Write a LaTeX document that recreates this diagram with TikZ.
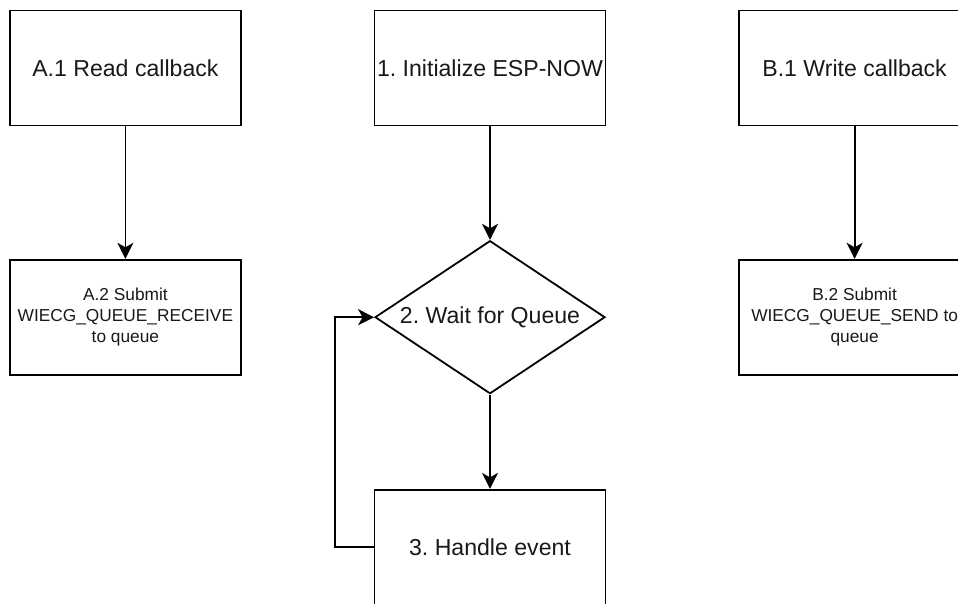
\documentclass[tikz,border=0pt]{standalone}
\usepackage{fontspec}
\setmainfont{Liberation Sans}
\usetikzlibrary{shapes.geometric,arrows.meta}
\frenchspacing

\tikzset{
  stepbox/.style={draw=black, line width=1.8pt, fill=white, rectangle,
    minimum width=231pt, minimum height=115pt, inner sep=0pt,
    font=\fontsize{23.1}{27.7}\selectfont, text=black!90},
  smallbox/.style={stepbox, align=center,
    font=\fontsize{17.3}{20.8}\selectfont},
  waitshape/.style={draw=black, line width=1.8pt, fill=white, diamond,
    minimum width=230pt, minimum height=153pt, inner sep=0pt},
  flow/.style={draw=black, line width=1.8pt,
    -{Stealth[length=16pt, width=16pt, inset=4.5pt]}},
}

\begin{document}
\begin{tikzpicture}[x=1pt, y=-1pt]
  \useasboundingbox (0,0) rectangle (958,603);
  \clip (0,0) rectangle (958,603);

  % column A: read path
  \node[stepbox] (a1) at (125.4,68) {A.1 Read callback};
  \node[smallbox] (a2) at (125.4,317.2)
    {A.2 Submit\\WIECG\_QUEUE\_RECEIVE\\to queue};

  % main loop
  \node[stepbox] (init) at (490,68) {1. Initialize ESP-NOW};
  \node[waitshape] (wait) at (490,317.2) {};
  \node[font=\fontsize{23.1}{27.7}\selectfont, text=black!90] (waitlbl) at (wait) {2. Wait for Queue};
  \node[stepbox] (handle) at (490,547.3) {3. Handle event};

  % column B: write path
  \node[stepbox] (b1) at (854.6,68) {B.1 Write callback};
  \node[smallbox] (b2) at (854.6,317.2)
    {B.2 Submit\\WIECG\_QUEUE\_SEND to\\queue};

  % connectors
  \draw[flow] (a1.south) -- (a2.north);
  \draw[flow] (b1.south) -- (b2.north);
  \draw[flow] (init.south) -- (wait.north);
  \draw[flow] (wait.south) -- (handle.north);
  \coordinate (back) at ([xshift=-39pt]handle.west);
  \draw[flow] (handle.west) -- (back) |- (wait.west);
\end{tikzpicture}
\end{document}
